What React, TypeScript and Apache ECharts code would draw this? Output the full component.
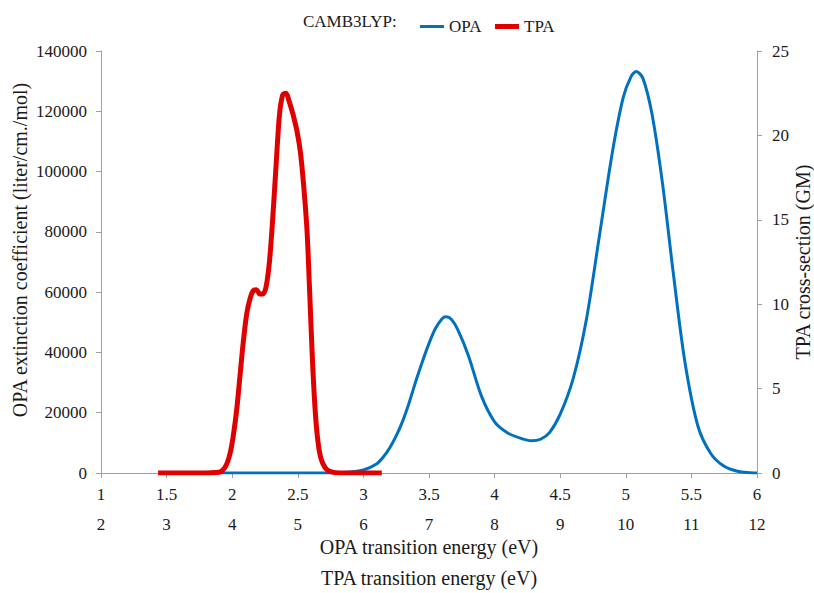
import React, { useEffect, useRef } from "react";
import * as echarts from "echarts";

// OPA spectrum (energy in eV on OPA axis, extinction coefficient in liter/cm./mol)
const opaEnergy = [1.5, 2.5, 2.7, 2.8, 2.9, 3.0, 3.1, 3.15, 3.2, 3.25, 3.3, 3.35, 3.4, 3.45, 3.5, 3.55, 3.6, 3.63, 3.67, 3.72, 3.8, 3.9, 4.0, 4.1, 4.2, 4.28, 4.35, 4.42, 4.5, 4.6, 4.7, 4.8, 4.9, 4.98, 5.04, 5.08, 5.13, 5.2, 5.28, 5.36, 5.45, 5.55, 5.65, 5.75, 5.85, 5.95, 6.0];
const opaEps = [0, 0, 20, 80, 300, 1000, 3000, 5200, 8300, 12300, 17300, 23500, 30500, 37000, 43000, 48000, 51200, 51800, 51000, 47500, 39000, 25500, 17000, 13300, 11500, 10700, 11200, 13500, 19500, 31500, 51000, 79000, 107000, 124500, 131500, 133200, 131000, 119000, 96000, 67000, 37000, 15500, 6300, 2200, 600, 120, 30];

// TPA spectrum (energy in eV on TPA axis, cross-section in GM)
const tpaEnergy = [2.87, 3.5, 3.8, 3.9, 3.97, 4.02, 4.07, 4.12, 4.17, 4.22, 4.27, 4.32, 4.37, 4.42, 4.47, 4.52, 4.57, 4.62, 4.67, 4.72, 4.77, 4.82, 4.87, 4.93, 4.99, 5.04, 5.09, 5.14, 5.18, 5.22, 5.26, 5.3, 5.35, 5.42, 5.5, 5.64, 6.28];
const tpaGM = [0, 0, 0.05, 0.4, 1.2, 2.3, 3.8, 5.8, 7.8, 9.4, 10.3, 10.8, 10.85, 10.6, 10.6, 11.1, 12.6, 15.2, 18.3, 21.2, 22.4, 22.5, 22.0, 21.2, 20.2, 19.0, 17.0, 14.4, 10.8, 7.0, 4.0, 2.1, 0.9, 0.3, 0.08, 0, 0];

const seriesNames = ["OPA", "TPA"];
const legendPrefix = "CAMB3LYP:";
const xTitleOPA = "OPA transition energy (eV)";
const xTitleTPA = "TPA transition energy (eV)";
const yTitleLeft = "OPA extinction coefficient (liter/cm./mol)";
const yTitleRight = "TPA cross-section (GM)";

const FONT = "Liberation Serif";
const TXT = "#1a1a1a";
const AX = "#a0a0a0";
const BLUE = "#0070C0";
const RED = "#E00000";

export default function App() {
  const ref = useRef<HTMLDivElement>(null);
  useEffect(() => {
    document.body.style.margin = "0";
    document.body.style.overflow = "hidden";
    if (!ref.current) return;
    const chart = echarts.init(ref.current, undefined, { renderer: "svg", width: 814, height: 593 });
    const axisCommon = {
      axisLine: { show: true, lineStyle: { color: AX, width: 1 } },
      axisTick: { show: true, length: 5, lineStyle: { color: AX } },
      splitLine: { show: false },
      axisLabel: { color: TXT, fontFamily: FONT, fontSize: 17, formatter: (v: number) => String(v) },
      nameTextStyle: { color: TXT, fontFamily: FONT, fontSize: 20 },
      nameMoveOverlap: false,
    };
    const legendCommon = {
      top: 13,
      itemWidth: 24,
      itemHeight: 14,
      symbolKeepAspect: true,
      textStyle: { fontFamily: FONT, fontSize: 17, color: TXT },
    };
    chart.setOption({
      animation: false,
      backgroundColor: "#ffffff",
      textStyle: { fontFamily: FONT },
      grid: { left: 101, right: 57, top: 51, bottom: 120, containLabel: false, outerBoundsMode: "none" },
      graphic: [
        {
          type: "text",
          left: 303,
          top: 13,
          style: { text: legendPrefix, fontFamily: FONT, fontSize: 17, fill: TXT },
        },
      ],
      legend: [
        {
          ...legendCommon,
          left: 415,
          data: [{ name: seriesNames[0], icon: "path://M0,0H24V3H0Z", itemStyle: { color: BLUE } }],
        },
        {
          ...legendCommon,
          left: 490,
          data: [{ name: seriesNames[1], icon: "path://M0,0H24V5H0Z", itemStyle: { color: RED } }],
        },
      ],
      xAxis: [
        {
          ...axisCommon,
          type: "value",
          position: "bottom",
          min: 1,
          max: 6,
          interval: 0.5,
          axisLabel: { ...axisCommon.axisLabel, margin: 13 },
          name: xTitleOPA,
          nameLocation: "middle",
          nameGap: 64,
        },
        {
          ...axisCommon,
          type: "value",
          position: "bottom",
          offset: 33,
          min: 2,
          max: 12,
          interval: 1,
          axisLabel: { ...axisCommon.axisLabel, margin: 10 },
          name: xTitleTPA,
          nameLocation: "middle",
          nameGap: 62,
        },
      ],
      yAxis: [
        {
          ...axisCommon,
          type: "value",
          position: "left",
          min: 0,
          max: 140000,
          interval: 20000,
          axisLabel: { ...axisCommon.axisLabel, margin: 14 },
          name: yTitleLeft,
          nameLocation: "middle",
          nameGap: 71,
          nameTextStyle: { ...axisCommon.nameTextStyle, padding: [0, 0, 0, 24] },
        },
        {
          ...axisCommon,
          type: "value",
          position: "right",
          min: 0,
          max: 25,
          interval: 5,
          axisLabel: { ...axisCommon.axisLabel, margin: 15 },
          name: yTitleRight,
          nameLocation: "middle",
          nameGap: 36,
        },
      ],
      series: [
        {
          name: seriesNames[0],
          type: "line",
          xAxisIndex: 0,
          yAxisIndex: 0,
          data: opaEnergy.map((e, i) => [e, opaEps[i]]),
          showSymbol: false,
          symbol: "none",
          smooth: 0.3,
          lineStyle: { color: BLUE, width: 3 },
          itemStyle: { color: BLUE },
          z: 2,
        },
        {
          name: seriesNames[1],
          type: "line",
          xAxisIndex: 1,
          yAxisIndex: 1,
          data: tpaEnergy.map((e, i) => [e, tpaGM[i]]),
          showSymbol: false,
          symbol: "none",
          smooth: 0.3,
          lineStyle: { color: RED, width: 5 },
          itemStyle: { color: RED },
          z: 3,
        },
      ],
    });
    return () => chart.dispose();
  }, []);
  return (
    <div
      ref={ref}
      style={{ position: "absolute", left: 0, top: 0, width: 814, height: 593 }}
    />
  );
}
